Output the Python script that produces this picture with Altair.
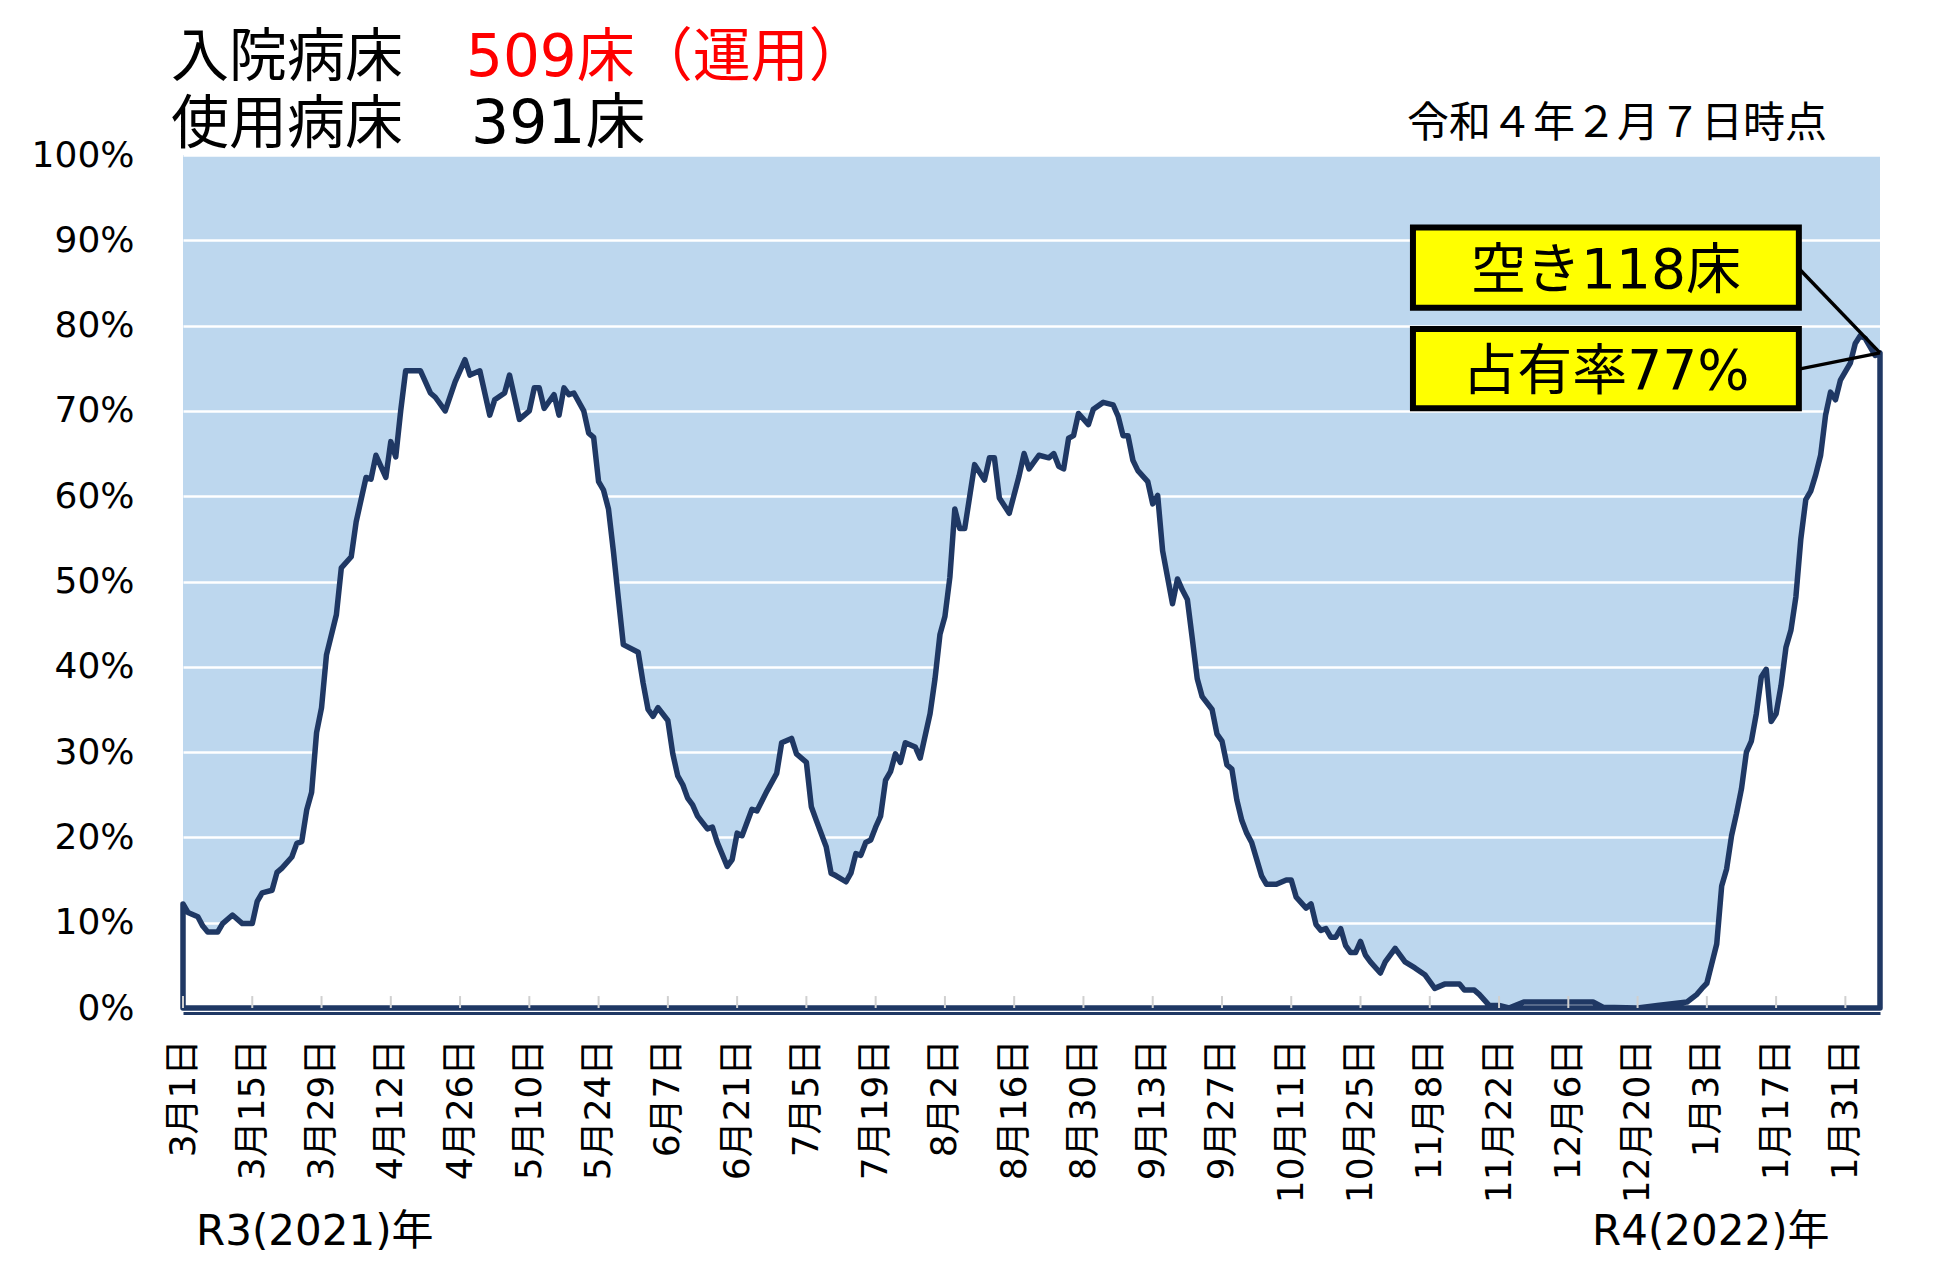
import json
import altair as alt
import pandas as pd

# ---- data (day 0 = 2021-03-01, day 343 = 2022-02-07) ----
days = [0, 1, 3, 4, 5, 7, 8, 10, 12, 14, 15, 16, 18, 19, 20, 22, 23, 24, 25, 26,
        27, 28, 29, 31, 32, 34, 35, 37, 38, 39, 41, 42, 43, 44, 45, 48, 50, 51, 53, 55,
        57, 58, 60, 62, 63, 65, 66, 68, 70, 71, 72, 73, 75, 76, 77, 78, 79, 81, 82, 83,
        84, 85, 86, 87, 88, 89, 92, 93, 94, 95, 96, 98, 99, 100, 101, 102, 103, 104, 106, 107,
        108, 110, 111, 112, 113, 115, 116, 118, 120, 121, 123, 124, 126, 127, 128, 130, 131, 132, 134, 135,
        136, 137, 138, 139, 140, 141, 142, 143, 144, 145, 146, 148, 149, 150, 151, 152, 153, 154, 155, 156,
        157, 158, 160, 162, 163, 164, 165, 167, 169, 170, 171, 173, 175, 176, 177, 178, 179, 180, 181, 183,
        184, 186, 188, 189, 190, 191, 192, 193, 195, 196, 197, 198, 199, 200, 201, 202, 203, 204, 205, 206,
        208, 209, 210, 211, 212, 213, 214, 215, 216, 218, 219, 221, 223, 224, 225, 227, 228, 229, 230, 231,
        232, 233, 234, 235, 236, 237, 238, 239, 240, 242, 243, 245, 247, 249, 251, 253, 255, 258, 259, 261,
        262, 264, 266, 268, 271, 275, 280, 285, 287, 294, 298, 304, 306, 307, 308, 309, 310, 311, 312, 313,
        314, 315, 316, 317, 318, 319, 320, 321, 322, 323, 324, 325, 326, 327, 328, 329, 330, 331, 332, 333,
        334, 335, 336, 337, 338, 339, 340, 342, 343]
occupancy = [12.2, 11.2, 10.7, 9.6, 8.9, 8.9, 9.9, 10.9, 9.9, 9.9, 12.5, 13.5, 13.8, 15.9, 16.4, 17.7, 19.3, 19.5, 23.2, 25.3,
             32.3, 35.2, 41.4, 46.1, 51.6, 52.9, 57.0, 62.2, 62.0, 64.8, 62.2, 66.4, 64.6, 70.0, 74.7, 74.7, 72.1, 71.6, 70.0, 73.4,
             76.0, 74.2, 74.7, 69.5, 71.3, 72.1, 74.2, 69.0, 70.0, 72.7, 72.7, 70.3, 71.9, 69.5, 72.7, 71.9, 72.1, 70.0, 67.4, 66.9,
             61.7, 60.7, 58.5, 53.5, 48.0, 42.6, 41.7, 38.1, 35.0, 34.2, 35.2, 33.7, 29.8, 27.2, 26.2, 24.6, 23.8, 22.5, 21.0, 21.2,
             19.4, 16.6, 17.4, 20.5, 20.2, 23.3, 23.1, 25.4, 27.5, 31.1, 31.6, 29.8, 28.8, 23.6, 22.0, 18.9, 15.8, 15.5, 14.8, 15.8,
             18.1, 17.9, 19.4, 19.7, 21.2, 22.5, 26.7, 27.7, 29.8, 28.8, 31.1, 30.6, 29.3, 31.9, 34.5, 38.6, 43.8, 45.9, 50.5, 58.5,
             56.2, 56.2, 63.7, 61.9, 64.5, 64.5, 59.8, 58.0, 62.4, 65.0, 63.2, 64.8, 64.5, 65.0, 63.5, 63.2, 66.8, 67.1, 69.7, 68.4,
             70.2, 71.0, 70.7, 69.4, 67.1, 67.1, 64.2, 63.0, 61.7, 59.1, 60.1, 53.6, 50.5, 47.4, 50.3, 49.0, 47.9, 43.3, 38.6, 36.5,
             35.0, 32.1, 31.3, 28.5, 28.0, 24.4, 22.0, 20.5, 19.4, 15.5, 14.5, 14.5, 15.0, 15.0, 13.0, 11.7, 12.2, 9.8, 9.1, 9.3,
             8.3, 8.3, 9.3, 7.3, 6.5, 6.5, 7.8, 6.2, 5.4, 4.1, 5.4, 7.0, 5.4, 4.7, 3.9, 2.3, 2.8, 2.8, 2.1, 2.1,
             1.6, 0.3, 0.3, 0.0, 0.7, 0.7, 0.7, 0.7, 0.1, 0.0, 0.3, 0.7, 1.6, 2.3, 2.9, 5.2, 7.5, 14.3, 16.3, 20.2,
             22.8, 25.7, 30.0, 31.3, 34.5, 38.8, 39.7, 33.6, 34.5, 37.8, 42.3, 44.3, 48.2, 55.0, 59.6, 60.6, 62.5, 64.8, 69.5, 72.2,
             71.3, 73.6, 74.6, 75.6, 77.9, 78.8, 78.5, 76.5, 76.8]

tick_days = [0, 14, 28, 42, 56, 70, 84, 98, 112, 126, 140, 154, 168, 182, 196, 210,
             224, 238, 252, 266, 280, 294, 308, 322, 336]
tick_labels = ["3月1日", "3月15日", "3月29日", "4月12日", "4月26日", "5月10日", "5月24日",
               "6月7日", "6月21日", "7月5日", "7月19日", "8月2日", "8月16日", "8月30日",
               "9月13日", "9月27日", "10月11日", "10月25日", "11月8日", "11月22日",
               "12月6日", "12月20日", "1月3日", "1月17日", "1月31日"]
y_ticks = [0, 10, 20, 30, 40, 50, 60, 70, 80, 90, 100]

# annotation boxes (in data units: days / percent)
box_texts = ["空き118床", "占有率77%"]
box_x0 = [248.6, 248.6]
box_x1 = [326.6, 326.6]
box_y0 = [82.1, 70.3]
box_y1 = [91.5, 79.6]
leader_x0 = [326.6, 326.6]
leader_y0 = [86.7, 74.9]
leader_x1 = [343.0, 343.0]
leader_y1 = [76.8, 76.8]

CJK = "Noto Sans CJK JP"
MIX = "DejaVu Sans, Noto Sans CJK JP"
NAVY = "#1F3864"
W, H = 1697, 853

df = pd.DataFrame({"day": days, "pct": occupancy})
df_ticks = pd.DataFrame({"day": tick_days, "y0": [0] * len(tick_days), "y1": [1.4] * len(tick_days)})
df_boxes = pd.DataFrame({"x0": box_x0, "x1": box_x1, "y0": box_y0, "y1": box_y1, "label": box_texts})
df_boxes["xc"] = (df_boxes.x0 + df_boxes.x1) / 2
df_boxes["yc"] = (df_boxes.y0 + df_boxes.y1) / 2 - 0.4
df_lead = pd.DataFrame({"x0": leader_x0, "y0": leader_y0, "x1": leader_x1, "y1": leader_y1})

xscale = alt.Scale(domain=[0, 343], nice=False, zero=False)
yscale = alt.Scale(domain=[0, 100], nice=False)

label_expr = "%s[indexof(%s, datum.value)]" % (json.dumps(tick_labels, ensure_ascii=False), json.dumps(tick_days))

x_axis = alt.Axis(values=tick_days, labelExpr=label_expr, labelAngle=270, labelAlign="right",
                  labelBaseline="middle", labelFontSize=36, labelFont=MIX, labelColor="black",
                  ticks=False, domainColor=NAVY, domainWidth=3, offset=5, labelPadding=26,
                  grid=False, title=None, labelOverlap=False, labelFlush=False)
y_axis = alt.Axis(values=y_ticks, labelExpr="datum.value + '%'", labelFontSize=36, labelFont=MIX,
                  labelColor="black", ticks=False, domain=False, grid=True, gridColor="white",
                  gridWidth=2.5, gridOpacity=1, labelPadding=49, title=None)

area = alt.Chart(df).mark_area(fill="white", stroke=NAVY, strokeWidth=5.5, strokeJoin="round",
                               fillOpacity=1).encode(
    x=alt.X("day:Q", scale=xscale, axis=x_axis),
    y=alt.Y("pct:Q", scale=yscale, axis=y_axis),
)

ticks = alt.Chart(df_ticks).mark_rule(color="#D0D0D0", strokeWidth=2).encode(
    x=alt.X("day:Q", scale=xscale, axis=x_axis),
    y=alt.Y("y0:Q", scale=yscale, axis=y_axis),
    y2="y1:Q",
)

boxes = alt.Chart(df_boxes).mark_rect(fill="#FFFF00", stroke="black", strokeWidth=6).encode(
    x=alt.X("x0:Q", scale=xscale, axis=x_axis), x2="x1:Q",
    y=alt.Y("y0:Q", scale=yscale, axis=y_axis), y2="y1:Q",
)
box_labels = alt.Chart(df_boxes).mark_text(font=MIX, fontSize=55, color="black",
                                           align="center", baseline="middle").encode(
    x=alt.X("xc:Q", scale=xscale, axis=x_axis),
    y=alt.Y("yc:Q", scale=yscale, axis=y_axis),
    text="label:N",
)
leaders = alt.Chart(df_lead).mark_rule(color="black", strokeWidth=3.5).encode(
    x=alt.X("x0:Q", scale=xscale, axis=x_axis), x2="x1:Q",
    y=alt.Y("y0:Q", scale=yscale, axis=y_axis), y2="y1:Q",
)


def label(text, x, y, size, color="black", align="left", font=MIX):
    return alt.Chart(alt.Data(values=[{}])).mark_text(
        text=text, font=font, fontSize=size, color=color, align=align, baseline="alphabetic"
    ).encode(x=alt.value(x), y=alt.value(y))


texts = [
    label("入院病床", -12, -79, 58, font=CJK),
    label("509床（運用）", 283, -79, 58, color="#FF0000"),
    label("使用病床", -12, -12, 58, font=CJK),
    label("391床", 288, -12, 60),
    label("令和４年２月７日時点", 1644, -18, 42, align="right", font=CJK),
    label("R3(2021)年", 13, 1090, 42),
    label("R4(2022)年", 1409, 1090, 42),
]

chart = alt.layer(area, ticks, boxes, box_labels, leaders, *texts).properties(
    width=W, height=H,
    autosize=alt.AutoSizeParams(type="none"),
    padding={"left": 175, "top": 147, "right": 56, "bottom": 248},
    background="white",
).configure_view(fill="#BDD7EE", strokeWidth=0)

chart.save("out.html", embed_options={"renderer": "svg", "actions": False})
